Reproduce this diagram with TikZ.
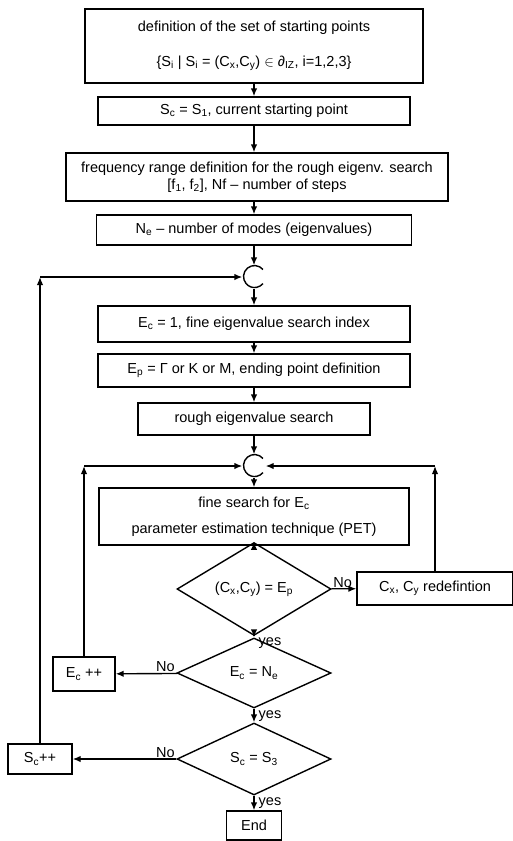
\documentclass[tikz,border=0pt]{standalone}
\usepackage{fontspec}
\setmainfont{Liberation Sans}
\usetikzlibrary{shapes.geometric,arrows.meta}
\begin{document}
\begin{tikzpicture}[x=1pt,y=1pt,line width=1.4pt,
  font=\fontsize{14.5}{17.5}\selectfont,
  box/.style={draw,rectangle,inner sep=0pt,align=center},
  test/.style={draw,diamond,inner sep=0pt,minimum width=154pt,minimum height=70pt},
  junc/.style={circle,inner sep=0pt,minimum size=22pt},
  arr/.style={-{Latex[length=8pt,width=6.5pt]}},
  lbl/.style={inner sep=1pt}]
\useasboundingbox (0,0) rectangle (513,-841);
\node[box,minimum width=338pt,minimum height=74pt] (defset) at (254,-46)
  {definition of the set of starting points\\[17pt]
   \{S\textsubscript{i} | S\textsubscript{i} = (C\textsubscript{x},C\textsubscript{y}) $\in$ ∂\textsubscript{IZ}, i=1,2,3\}};
\node[box,minimum width=312pt,minimum height=28pt] (curstart) at (254,-111)
  {S\textsubscript{c} = S\textsubscript{1}, current starting point};
\node[box,minimum width=382pt,minimum height=48pt] (freqrange) at (257,-177)
  {frequency range definition for the rough eigenv. search\\
   {[}f\textsubscript{1}, f\textsubscript{2}], Nf -- number of steps};
\node[box,minimum width=315pt,minimum height=30pt] (nmodes) at (254,-230)
  {N\textsubscript{e} -- number of modes (eigenvalues)};
\node[junc] (j1) at (254,-277) {};
\node[box,minimum width=312pt,minimum height=36pt] (ecinit) at (254,-324)
  {E\textsubscript{c} = 1, fine eigenvalue search index};
\node[box,minimum width=312pt,minimum height=33pt] (endpt) at (254,-370.5)
  {E\textsubscript{p} = Γ or K or M, ending point definition};
\node[box,minimum width=232pt,minimum height=32pt] (rough) at (254,-419)
  {rough eigenvalue search};
\node[junc] (j2) at (254,-466) {};
\node[box,minimum width=310pt,minimum height=57pt] (fine) at (254,-516.5)
  {fine search for E\textsubscript{c}\\[8pt] parameter estimation technique (PET)};
\node[test,minimum height=68pt] (reach) at (254,-589)
  {(C\textsubscript{x},C\textsubscript{y}) = E\textsubscript{p}};
\node[box,minimum width=156pt,minimum height=33pt] (redef) at (435,-588.5)
  {C\textsubscript{x}, C\textsubscript{y} redefintion};
\node[test] (alleig) at (254,-673) {E\textsubscript{c} = N\textsubscript{e}};
\node[test,minimum height=72pt] (allstart) at (254,-759) {S\textsubscript{c} = S\textsubscript{3}};
\node[box,minimum width=62pt,minimum height=34pt] (ecinc) at (84,-674) {E\textsubscript{c} ++};
\node[box,minimum width=64pt,minimum height=30pt] (scinc) at (40,-759) {S\textsubscript{c}++};
\node[box,minimum width=55pt,minimum height=29pt] (stop) at (254,-825.5) {End};

\draw (j1.40) arc[start angle=40,end angle=320,radius=11pt];
\draw (j2.40) arc[start angle=40,end angle=320,radius=11pt];

\draw[arr] (defset) -- (curstart);
\draw[arr] (curstart.south) -- (curstart.south |- freqrange.north);
\draw[arr] (freqrange.south -| nmodes) -- (nmodes);
\draw[arr] (nmodes) -- (j1);
\draw[arr] (j1) -- (ecinit);
\draw[arr] (ecinit) -- (endpt);
\draw[arr] (endpt) -- (rough);
\draw[arr] (rough) -- (j2);
\draw[arr] (j2) -- (fine);
\draw[arr] (fine) -- (reach);
\draw[arr] (reach) -- (alleig);
\draw[arr] (alleig) -- (allstart);
\draw[arr] (allstart) -- (stop);
\draw[arr] (reach) -- (redef);
\draw[arr] (alleig) -- (ecinc);
\draw[arr] (allstart) -- (scinc);

\coordinate (c1) at (scinc.north |- j1);
\coordinate (c2) at (ecinc.north |- j2);
\coordinate (c3) at (redef.north |- j2);
\draw[arr] (scinc) -- (c1);
\draw[arr] (c1) -- (j1);
\draw[arr] (ecinc) -- (c2);
\draw[arr] (c2) -- (j2);
\draw[arr] (redef) -- (c3);
\draw[arr] (c3) -- (j2);

\node[lbl,anchor=south west] at (reach.east) {No};
\node[lbl,anchor=south east] at (alleig.west) {No};
\node[lbl,anchor=south east] at (allstart.west) {No};
\node[lbl,anchor=north west] at ([xshift=3pt]reach.south) {yes};
\node[lbl,anchor=north west] at ([xshift=3pt]alleig.south) {yes};
\node[lbl,anchor=north west] at ([xshift=3pt]allstart.south) {yes};
\end{tikzpicture}
\end{document}
